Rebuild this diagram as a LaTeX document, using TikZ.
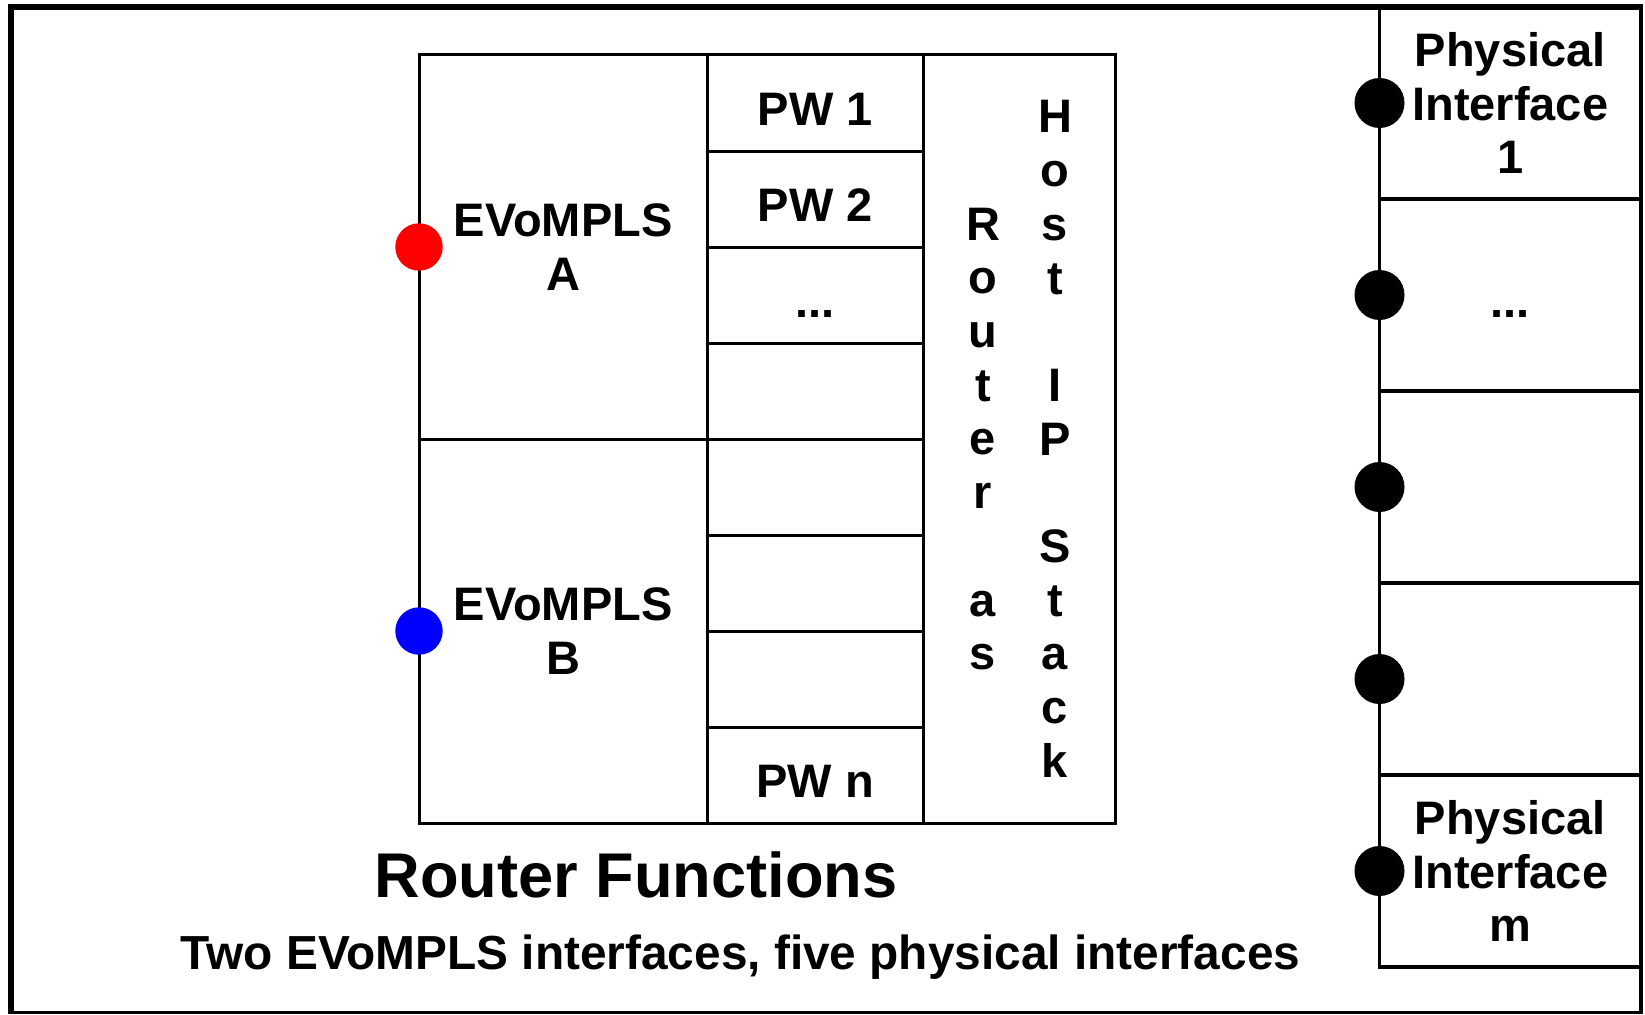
\documentclass[tikz,border=0pt]{standalone}
\usepackage{fontspec}
\setmainfont{Liberation Sans}
\begin{document}
\begin{tikzpicture}[x=1pt,y=-1pt,
  cell/.style={draw, line width=3pt, inner sep=0pt, outer sep=0pt, anchor=north west},
  evcell/.style={cell, minimum width=288.3pt, minimum height=384pt},
  pwcell/.style={cell, minimum width=215.7pt, minimum height=96pt},
  stackcell/.style={cell, minimum width=192pt, minimum height=768pt},
  phycell/.style={draw, line width=3.5pt, inner sep=0pt, outer sep=0pt, anchor=north west,
                  minimum width=261.5pt, minimum height=192pt},
  txt/.style={font=\fontsize{47}{53.7}\selectfont\bfseries, inner sep=0pt, align=center},
  port/.style={circle, draw=none, inner sep=0pt, minimum size=#1},
]
\useasboundingbox (0,0) rectangle (1645,1014);

% outer frame
\draw[line width=3.5pt] (11,7) rectangle (1641,1012.5);
\draw[line width=6pt] (8,7) -- (1643,7);
\draw[line width=6pt] (11,4) -- (11,1014);

% EVoMPLS interfaces
\node[evcell] (evA) at (419,55) {};
\node[evcell] (evB) at (419,439) {};
\node[txt] (levA) at (evA.center) {EVoMPLS\\A};
\node[txt] (levB) at (evB.center) {EVoMPLS\\B};

% pseudowires
\foreach \i in {1,...,8}
  \node[pwcell] (pw\i) at (707.3,{55+96*(\i-1)}) {};
\node[txt, anchor=base] (lpw1) at ([yshift=-22pt]pw1.center) {PW 1};
\node[txt, anchor=base] (lpw2) at ([yshift=-22pt]pw2.center) {PW 2};
\node[txt, anchor=base] (lpw3) at ([yshift=-22pt]pw3.center) {...};
\node[txt, anchor=base] (lpw8) at ([yshift=-22pt]pw8.center) {PW n};

% router / host stack column
\node[stackcell] (stack) at (923,55) {};
\node[txt] (lrouter) at (983,439) {R\\o\\u\\t\\e\\r\\\mbox{}\\a\\s};
\node[txt] (lhost) at (1055,439) {H\\o\\s\\t\\\mbox{}\\I\\P\\\mbox{}\\S\\t\\a\\c\\k};

% physical interfaces
\foreach \i in {1,...,5}
  \node[phycell] (phy\i) at (1379.5,{7+192*(\i-1)}) {};
\node[txt] (lphy1) at (phy1.center) {Physical\\Interface\\1};
\node[txt, anchor=base] (lphy2) at ([yshift=-22pt]phy2.center) {...};
\node[txt] (lphy5) at (phy5.center) {Physical\\Interface\\m};

% interface ports
\node[port=47.4pt, fill=red] (dotA) at (evA.west) {};
\node[port=47.4pt, fill=blue] (dotB) at (evB.west) {};
\foreach \i in {1,...,5}
  \node[port=50pt, fill=black] (dp\i) at (phy\i.west) {};

% captions
\node[font=\fontsize{63.2}{72}\selectfont\bfseries, inner sep=0pt, anchor=base]
  (title) at (636,897) {Router Functions};
\node[font=\fontsize{47.8}{55}\selectfont\bfseries, inner sep=0pt, anchor=base]
  (subtitle) at (740.6,969.3) {Two EVoMPLS interfaces, five physical interfaces};
\end{tikzpicture}
\end{document}
